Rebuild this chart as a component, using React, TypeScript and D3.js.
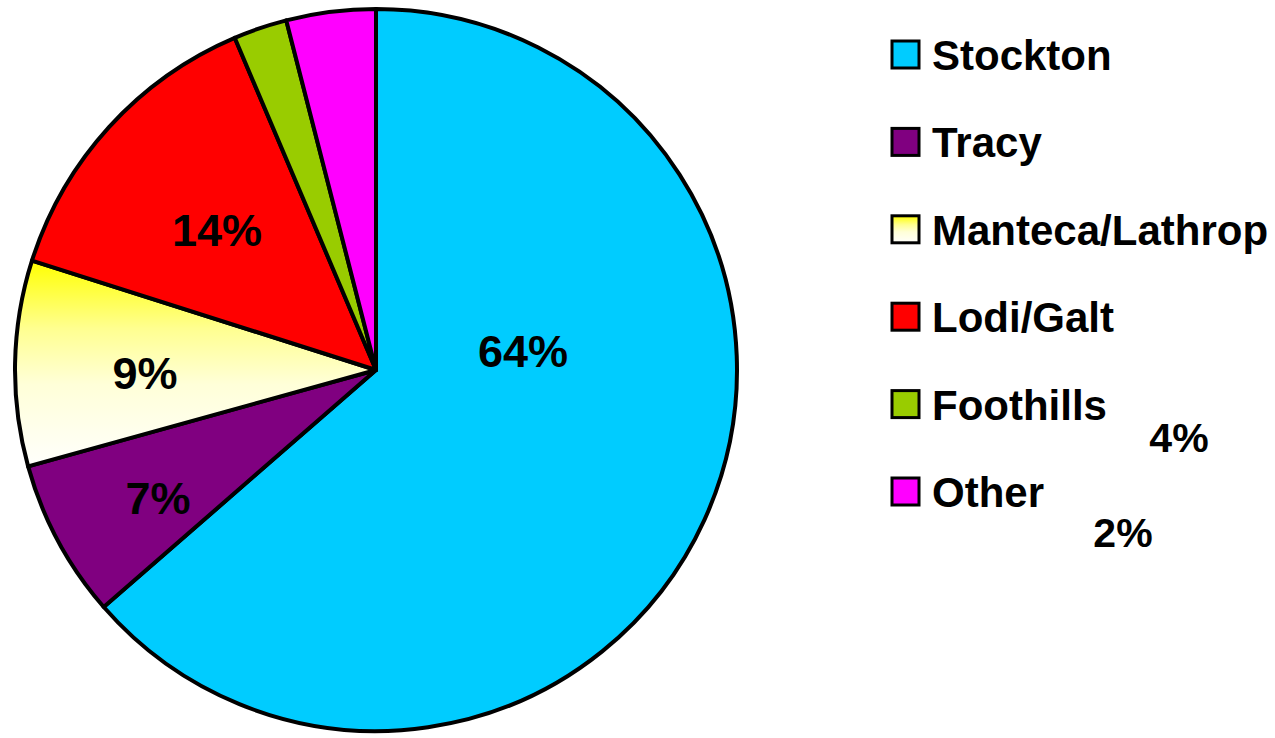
import React from "react";
import * as d3 from "d3";

const categories = ["Stockton", "Tracy", "Manteca/Lathrop", "Lodi/Galt", "Foothills", "Other"];
const values = [63.6, 7.1, 9.2, 13.7, 2.4, 4.0];
const labelTexts = ["64%", "7%", "9%", "14%", "2%", "4%"];
const colors = ["#00CCFF", "#800080", "url(#yellowGrad)", "#FF0000", "#99CC00", "#FF00FF"];

const W = 1275;
const H = 738;
const cx = 376;
const cy = 370;
const R = 361;

// label anchor positions (layout, manually placed in the original)
const labelPos: [number, number][] = [
  [523, 367],
  [158, 514],
  [145, 389],
  [217, 246],
  [1123, 547],
  [1179, 452],
];

export default function App() {
  const pie = d3.pie<number>().sort(null).value((d) => d)(values);
  const arc = d3.arc<d3.PieArcDatum<number>>().innerRadius(0).outerRadius(R);
  const legendX = 892;
  const legendTop = 70;
  const legendStep = 87.4;
  return (
    <svg
      width={W}
      height={H}
      style={{ position: "absolute", left: 0, top: 0, background: "#fff" }}
      fontFamily="'Liberation Sans', Arial, sans-serif"
    >
      <defs>
        <linearGradient id="yellowGrad" x1="0" y1="0" x2="0" y2="1">
          <stop offset="0" stopColor="#FFFF00" />
          <stop offset="0.33" stopColor="#FFFF90" />
          <stop offset="0.6" stopColor="#FFFFD8" />
          <stop offset="1" stopColor="#FFFFFC" />
        </linearGradient>
      </defs>
      <g transform={`translate(${cx},${cy})`}>
        {pie.map((p, i) => (
          <path
            key={i}
            d={arc(p) || ""}
            fill={colors[i]}
            stroke="#000"
            strokeWidth={4}
            strokeLinejoin="round"
          />
        ))}
      </g>
      {labelTexts.map((t, i) => (
        <text
          key={i}
          x={labelPos[i][0]}
          y={labelPos[i][1]}
          textAnchor="middle"
          fontWeight="bold"
          fontSize={i >= 4 ? 41 : 45}
          fill="#000"
        >
          {t}
        </text>
      ))}
      {categories.map((c, i) => {
        const base = legendTop + i * legendStep;
        return (
          <g key={c}>
            <rect
              x={legendX}
              y={base - 29}
              width={27}
              height={27}
              fill={colors[i]}
              stroke="#000"
              strokeWidth={3}
            />
            <text x={932} y={base} fontWeight="bold" fontSize={42} fill="#000">
              {c}
            </text>
          </g>
        );
      })}
    </svg>
  );
}
